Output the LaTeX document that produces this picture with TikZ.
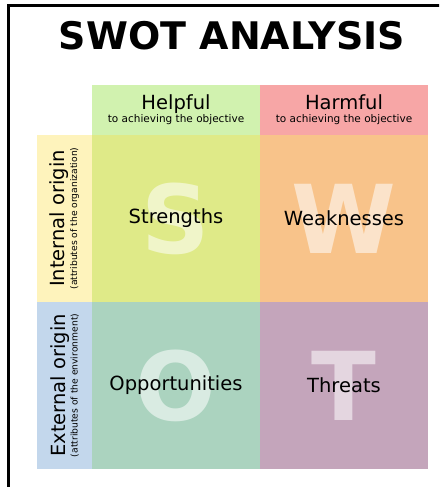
\documentclass[tikz,border=0pt]{standalone}
\usepackage{fontspec}
\setmainfont{DejaVu Sans}
\usepackage{xcolor}
\definecolor{frameDark}{HTML}{000000}
\definecolor{helpfulFill}{HTML}{D1F2AF}
\definecolor{harmfulFill}{HTML}{F7A6A6}
\definecolor{internalFill}{HTML}{FEF3BC}
\definecolor{externalFill}{HTML}{C3D7EC}
\definecolor{strengthsFill}{HTML}{DFEA88}
\definecolor{weaknessesFill}{HTML}{F8C38A}
\definecolor{opportunitiesFill}{HTML}{ABD3BF}
\definecolor{threatsFill}{HTML}{C4A5BB}
\usetikzlibrary{positioning}
\newcommand{\subFont}{\fontsize{10.5}{13}\selectfont}
\newcommand{\sideSubFont}{\fontsize{9.2}{12.5}\selectfont}
\tikzset{%
  bigLetter/.style={%
    font=\fontsize{95}{95}\selectfont\bfseries,
    text=white,
    text opacity=0.55,
    inner sep=0pt
  },
  quadBox/.style={%
    rectangle,
    minimum width=168pt,
    minimum height=167pt,
    inner sep=0pt,
    outer sep=0pt
  },
  quadLabel/.style={%
    inner sep=0pt,
    font=\fontsize{19.5}{22}\selectfont
  },
  headBox/.style={%
    rectangle,
    minimum width=168pt,
    minimum height=50pt,
    inner sep=0pt,
    outer sep=0pt,
    align=center,
    font=\fontsize{19.5}{13}\selectfont
  },
  sideBox/.style={%
    rectangle,
    rotate=90,
    minimum width=167pt,
    minimum height=55pt,
    inner sep=0pt,
    outer sep=0pt,
    align=center,
    font=\fontsize{19.5}{12.5}\selectfont
  }
}

\begin{document}
\begin{tikzpicture}[x=1pt,y=-1pt]
  \useasboundingbox (0,0) rectangle (439,487);
  \clip (0,0) rectangle (439,487);
  % frame
  \draw[line width=3pt, color=frameDark] (8.5,500) -- (8.5,5.5) -- (450,5.5);

  \node[anchor=base, font=\fontsize{38}{40}\selectfont\bfseries] (title) at (232,50) {SWOT ANALYSIS};

  % quadrants
  \node[quadBox, fill=strengthsFill] (strengths) at (176,218.5) {};
  \node[quadBox, fill=weaknessesFill, right=0pt of strengths] (weaknesses) {};
  \node[quadBox, fill=opportunitiesFill, below=0pt of strengths] (opportunities) {};
  \node[quadBox, fill=threatsFill, below=0pt of weaknesses] (threats) {};

  \node[bigLetter] (sLetter) at (strengths.center) {S};
  \node[bigLetter] (wLetter) at (weaknesses.center) {W};
  \node[bigLetter] (oLetter) at (opportunities.center) {O};
  \node[bigLetter] (tLetter) at (threats.center) {T};

  \node[quadLabel] (sLabel) at (strengths.center) {Strengths};
  \node[quadLabel] (wLabel) at (weaknesses.center) {Weaknesses};
  \node[quadLabel] (oLabel) at (opportunities.center) {Opportunities};
  \node[quadLabel] (tLabel) at (threats.center) {Threats};

  % headers
  \node[headBox, fill=helpfulFill, above=0pt of strengths] (helpful) {Helpful\\{\subFont to achieving the objective}};
  \node[headBox, fill=harmfulFill, above=0pt of weaknesses] (harmful) {Harmful\\{\subFont to achieving the objective}};
  \node[sideBox, fill=internalFill, left=0pt of strengths, anchor=south] (internal) {Internal origin\\{\sideSubFont (attributes of the organization)}};
  \node[sideBox, fill=externalFill, left=0pt of opportunities, anchor=south] (external) {External origin\\{\sideSubFont (attributes of the environment)}};
\end{tikzpicture}
\end{document}
